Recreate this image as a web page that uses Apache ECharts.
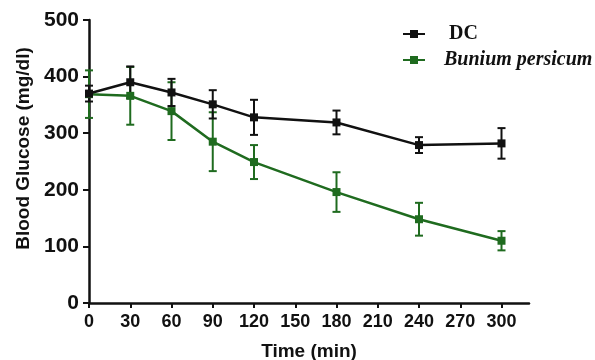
<!DOCTYPE html>
<html>
<head>
<meta charset="utf-8">
<script src="https://cdn.jsdelivr.net/npm/echarts@6/dist/echarts.min.js"></script>
<style>
html,body{margin:0;padding:0;background:#fff;}
#chart{width:595px;height:360px;}
</style>
</head>
<body>
<div id="chart"></div>
<script>
const times = [0, 30, 60, 90, 120, 180, 240, 300];
const xTicks = [0, 30, 60, 90, 120, 150, 180, 210, 240, 270, 300];
const dcMean = [370, 390, 372, 351, 328, 319, 279, 282];
const dcErr  = [14, 28, 24, 25, 31, 21, 14, 27];
const bpMean = [369, 366, 339, 285, 249, 196, 148, 110];
const bpErr  = [42, 51, 51, 52, 30, 35, 29, 17];
const seriesNames = ['DC', 'Bunium persicum'];

const BLACK = '#111111';
const GREEN = '#1f6b1f';

function errData(mean, err) {
  return times.map((t, i) => [t, mean[i] - err[i], mean[i] + err[i]]);
}
function errSeries(mean, err, color) {
  return {
    type: 'custom',
    silent: true,
    data: errData(mean, err),
    z: 3,
    renderItem: function (params, api) {
      const x = api.value(0);
      const lo = api.coord([x, api.value(1)]);
      const hi = api.coord([x, api.value(2)]);
      const hw = 4;
      const st = { stroke: color, lineWidth: 2 };
      return {
        type: 'group',
        children: [
          { type: 'line', shape: { x1: lo[0], y1: lo[1], x2: hi[0], y2: hi[1] }, style: st },
          { type: 'line', shape: { x1: lo[0] - hw, y1: lo[1], x2: lo[0] + hw, y2: lo[1] }, style: st },
          { type: 'line', shape: { x1: hi[0] - hw, y1: hi[1], x2: hi[0] + hw, y2: hi[1] }, style: st }
        ]
      };
    }
  };
}

const chart = echarts.init(document.getElementById('chart'), null, { renderer: 'canvas' });
chart.setOption({
  animation: false,
  backgroundColor: '#fff',
  grid: { left: 89, right: 66, top: 20, bottom: 57, outerBoundsMode: 'none', containLabel: false },
  legend: {
    data: seriesNames,
    orient: 'vertical',
    left: 397,
    top: 19,
    itemWidth: 22,
    itemHeight: 10,
    itemGap: 6,
    textStyle: {
      fontFamily: 'Liberation Serif, Times New Roman, serif',
      fontWeight: 'bold',
      fontSize: 20,
      color: '#111',
      rich: {
        dc: { fontFamily: 'Liberation Serif', fontWeight: 'bold', fontSize: 20, padding: [0, 0, 0, 19] },
        bp: { fontFamily: 'Liberation Serif', fontWeight: 'bold', fontStyle: 'italic', fontSize: 20, padding: [0, 0, 0, 14] }
      }
    },
    formatter: function (name) {
      return name === 'DC' ? '{dc|' + name + '}' : '{bp|' + name + '}';
    }
  },
  xAxis: {
    type: 'value',
    min: 0,
    max: 320,
    interval: 10,
    name: 'Time (min)',
    nameLocation: 'middle',
    nameGap: 39,
    nameTextStyle: { fontFamily: 'Liberation Sans, Arial, sans-serif', fontWeight: 'bold', fontSize: 19, color: '#111' },
    axisLine: { onZero: false, lineStyle: { color: '#111', width: 2.5 } },
    axisTick: { show: true, length: 5, lineStyle: { color: '#111', width: 2 }, customValues: xTicks },
    axisLabel: { customValues: xTicks, margin: 10, fontFamily: 'Liberation Sans, Arial, sans-serif', fontWeight: 'bold', fontSize: 18, color: '#111' },
    splitLine: { show: false }
  },
  yAxis: {
    type: 'value',
    min: 0,
    max: 500,
    interval: 100,
    name: 'Blood Glucose (mg/dl)',
    nameLocation: 'middle',
    nameGap: 56,
    nameTextStyle: { fontFamily: 'Liberation Sans, Arial, sans-serif', fontWeight: 'bold', fontSize: 19, color: '#111', padding: [0, 0, 0, 26] },
    axisLine: { show: true, lineStyle: { color: '#111', width: 2.5 } },
    axisTick: { show: true, length: 6, lineStyle: { color: '#111', width: 2 } },
    axisLabel: { margin: 10, fontFamily: 'Liberation Sans, Arial, sans-serif', fontWeight: 'bold', fontSize: 21, color: '#111' },
    splitLine: { show: false }
  },
  series: [
    errSeries(bpMean, bpErr, GREEN),
    {
      name: seriesNames[1],
      type: 'line',
      data: times.map((t, i) => [t, bpMean[i]]),
      symbol: 'rect',
      symbolSize: 8,
      itemStyle: { color: GREEN },
      lineStyle: { color: GREEN, width: 2.5 },
      z: 4
    },
    errSeries(dcMean, dcErr, BLACK),
    {
      name: seriesNames[0],
      type: 'line',
      data: times.map((t, i) => [t, dcMean[i]]),
      symbol: 'rect',
      symbolSize: 8,
      itemStyle: { color: BLACK },
      lineStyle: { color: BLACK, width: 2.5 },
      z: 5
    }
  ]
});
</script>
</body>
</html>
